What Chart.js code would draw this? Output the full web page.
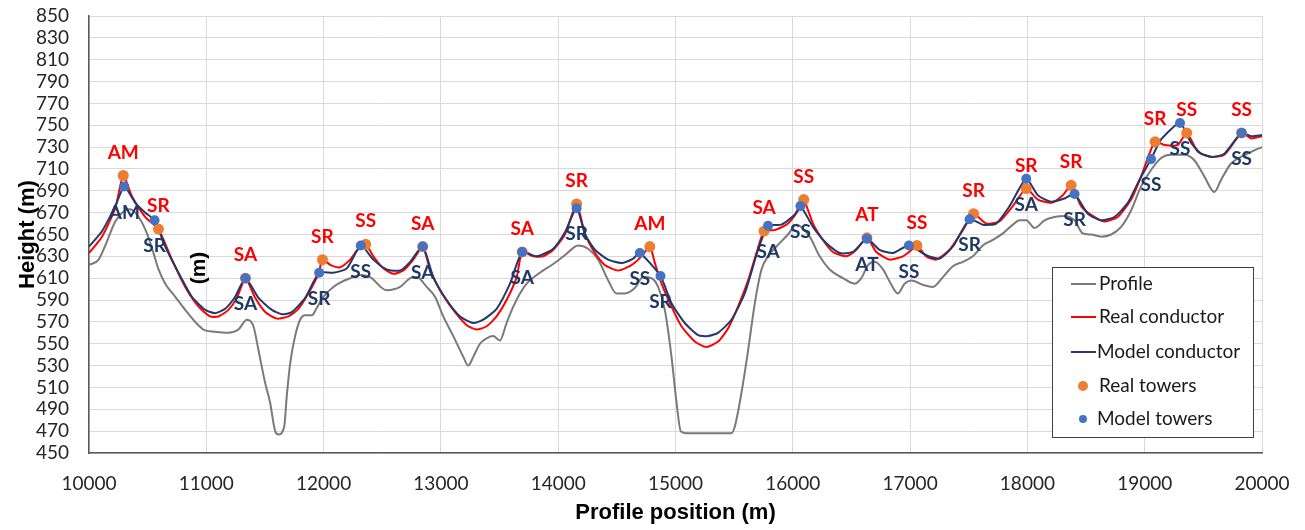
<!DOCTYPE html>
<html><head><meta charset="utf-8">
<script src="https://cdn.jsdelivr.net/npm/chart.js@4.4.1/dist/chart.umd.min.js"></script>
<style>html,body{margin:0;padding:0;background:#fff;} #wrap{width:1305px;height:530px;position:relative;}</style>
</head><body><div id="wrap"><canvas id="c" width="1305" height="530"></canvas></div>
<script>
// ---- data ----
const profileX = [10000,10082,10139,10224,10295,10350,10423,10494,10550,10593,10650,10735,10820,10905,10976,11076,11189,11274,11346,11402,11445,11502,11544,11587,11615,11664,11686,11715,11757,11800,11843,11900,11942,11998,12083,12141,12226,12311,12396,12538,12652,12738,12794,12879,12950,13020,13106,13191,13233,13276,13333,13390,13446,13503,13560,13617,13674,13731,13844,13958,14057,14170,14255,14341,14426,14497,14568,14653,14724,14796,14852,14909,14966,15009,15045,15107,15477,15505,15562,15619,15676,15733,15789,15860,15959,16031,16144,16229,16314,16428,16528,16584,16641,16698,16769,16825,16896,16953,17010,17109,17194,17280,17365,17450,17535,17620,17706,17791,17876,17933,17990,18061,18146,18231,18317,18402,18472,18543,18629,18714,18799,18884,18969,19054,19140,19225,19338,19423,19509,19594,19651,19736,19821,19934,20000];
const profileY = [622,627,640,662,671,673,666,651,633,618,605,593,581,570,563,561,560,563,572,566,544,514,496,470,467,474,502,532,557,572,576,576,583,593,602,606,610,613,611,599,602,610,611,602,593,575,557,538,530,538,550,555,557,553,569,584,596,605,615,623,631,640,637,627,608,596,596,601,611,610,602,581,538,496,470,468,468,474,505,544,587,618,630,639,650,659,648,630,618,610,605,610,622,625,618,607,596,605,608,604,602,611,621,625,630,640,645,651,659,663,663,656,663,666,667,663,651,650,648,650,657,672,694,709,720,723,723,718,703,689,700,715,721,727,730];

const realCondX = [10000,10111,10224,10292,10366,10480,10592,10707,10820,10934,11033,11104,11189,11261,11334,11417,11502,11601,11700,11785,11870,11956,11990,12060,12141,12226,12297,12359,12424,12509,12595,12680,12765,12845,12907,12992,13106,13220,13305,13390,13475,13560,13646,13693,13787,13872,13958,14057,14157,14227,14313,14398,14511,14625,14710,14781,14824,14881,14966,15051,15164,15264,15363,15448,15533,15619,15690,15755,15846,15959,16059,16093,16172,16257,16342,16457,16542,16632,16712,16825,16939,17024,17058,17138,17223,17337,17450,17541,17649,17762,17876,17990,18089,18203,18302,18373,18458,18543,18657,18770,18884,18969,19040,19089,19168,19282,19358,19452,19566,19679,19826,19906,20000];
const realCondY = [633,648,674,704,685,666,655,627,602,584,575,575,581,592,610,592,579,573,575,582,596,614,627,622,620,627,637,641,630,619,614,617,627,639,618,599,581,567,563,566,575,590,611,634,630,630,636,650,678,651,633,622,617,622,630,639,624,605,584,566,552,547,552,564,584,608,633,653,654,660,674,682,660,645,634,630,636,647,634,627,630,637,640,630,627,636,654,669,660,662,676,692,682,679,686,695,676,668,662,666,682,703,724,735,732,732,743,726,721,723,743,738,740];

const modelCondX = [10000,10111,10224,10301,10394,10480,10559,10650,10763,10877,10991,11076,11161,11246,11334,11445,11559,11644,11729,11843,11962,12084,12198,12317,12424,12538,12652,12738,12845,12935,13049,13163,13276,13361,13475,13589,13693,13816,13958,14057,14157,14230,14313,14426,14540,14639,14696,14872,14966,15079,15193,15278,15363,15477,15590,15704,15789,15903,16016,16065,16172,16286,16400,16513,16632,16740,16854,16990,17138,17251,17365,17507,17620,17734,17848,17990,18089,18203,18317,18402,18515,18629,18742,18856,18955,19054,19140,19301,19395,19480,19580,19679,19826,19906,20000];
const modelCondY = [639,653,676,694,679,670,663,639,615,593,581,578,582,593,610,592,581,577,579,592,615,615,619,640,627,618,617,625,639,611,590,575,569,572,582,605,634,630,637,652,674,650,636,627,624,628,633,612,587,569,558,557,560,572,596,636,658,659,668,676,657,642,633,634,646,636,633,640,631,628,639,664,659,660,676,701,686,680,683,687,669,663,666,679,700,719,737,752,734,724,721,724,743,740,741];

const realTowerX = [10292,10592,11334,11990,12359,12845,13693,14157,14781,15755,16093,16632,17058,17541,17990,18373,19089,19358,19826];
const realTowerY = [704,655,610,627,641,639,634,678,639,653,682,647,640,669,692,695,735,743,743];
const realTowerTypes = ['AM','SR','SA','SR','SS','SA','SA','SR','AM','SA','SS','AT','SS','SR','SR','SR','SR','SS','SS'];

const modelTowerX = [10301,10559,11334,11962,12317,12845,13693,14157,14696,14872,15789,16065,16632,16990,17507,17990,18402,19054,19301,19826];
const modelTowerY = [694,663,610,615,640,639,634,674,633,612,658,676,646,640,664,701,687,719,752,743];
const modelTowerTypes = ['AM','SR','SA','SR','SS','SA','SA','SR','SS','SR','SA','SS','AT','SS','SR','SA','SR','SS','SS','SS'];

const xTickValues = [10000,11000,12000,13000,14000,15000,16000,17000,18000,19000,20000];
const yTickValues = [450,470,490,510,530,550,570,590,610,630,650,670,690,710,730,750,770,790,810,830,850];

const seriesNames = ['Profile','Real conductor','Model conductor','Real towers','Model towers'];
const xTitle = 'Profile position (m)';
const yTitle = 'Height (m)';
const strayText = '(m)';

// ---- helpers ----
function pts(xs, ys){ return xs.map((x,i)=>({x:x, y:ys[i]})); }

const COLORS = {profile:'#7a7a7a', real:'#ff0000', model:'#24386b', realT:'#ed7d31', modelT:'#4472c4', modelLbl:'#1f3864'};

const labelsPlugin = {
  id:'towerLabels',
  afterDatasetsDraw(chart){
    const ctx = chart.ctx;
    ctx.save();
    ctx.font = 'bold 19px Lato';
    ctx.textAlign = 'center';
    ctx.textBaseline = 'middle';
    const mReal = chart.getDatasetMeta(3);
    ctx.fillStyle = COLORS.real;
    mReal.data.forEach((p,i)=>{ ctx.fillText(realTowerTypes[i], p.x, p.y - 23); });
    const mModel = chart.getDatasetMeta(4);
    ctx.fillStyle = COLORS.modelLbl;
    mModel.data.forEach((p,i)=>{ ctx.fillText(modelTowerTypes[i], p.x, p.y + 26); });
    ctx.restore();
  },
  afterDraw(chart){
    const ctx = chart.ctx;
    ctx.save();
    // stray rotated "(m)" text inside the plot
    ctx.translate(199, 268);
    ctx.rotate(-Math.PI/2);
    ctx.font = 'bold 21px "Liberation Sans"';
    ctx.fillStyle = '#000';
    ctx.textAlign = 'center';
    ctx.textBaseline = 'middle';
    ctx.fillText(strayText, 0, 0);
    ctx.restore();

    // legend box
    ctx.save();
    const bx = 1052, by = 267, bw = 201, bh = 170;
    ctx.fillStyle = '#fff';
    ctx.fillRect(bx, by, bw, bh);
    ctx.strokeStyle = '#404040';
    ctx.lineWidth = 1;
    ctx.strokeRect(bx + 0.5, by + 0.5, bw, bh);
    ctx.font = '19px Lato';
    ctx.textBaseline = 'middle';
    ctx.textAlign = 'left';
    const rows = [284, 317, 352, 386, 419];
    chart.data.datasets.forEach((ds, i)=>{
      const y = rows[i];
      if (i < 3) {
        ctx.strokeStyle = ds.borderColor;
        ctx.lineWidth = 2;
        ctx.beginPath(); ctx.moveTo(1071, y); ctx.lineTo(1096, y); ctx.stroke();
        ctx.fillStyle = '#1a1a1a';
        ctx.fillText(ds.label, i === 2 ? 1097 : 1099, y);
      } else {
        ctx.fillStyle = ds.backgroundColor;
        ctx.beginPath(); ctx.arc(1083, y, i === 3 ? 5 : 4, 0, Math.PI*2); ctx.fill();
        ctx.fillStyle = '#1a1a1a';
        ctx.fillText(ds.label, i === 3 ? 1099 : 1097, y);
      }
    });
    ctx.restore();
  }
};

new Chart(document.getElementById('c'), {
  type: 'line',
  data: {
    datasets: [
      {label: seriesNames[0], data: pts(profileX, profileY), borderColor: COLORS.profile, borderWidth: 2, pointRadius: 0, cubicInterpolationMode: 'monotone', order: 4},
      {label: seriesNames[1], data: pts(realCondX, realCondY), borderColor: COLORS.real, borderWidth: 2, pointRadius: 0, tension: 0.2, order: 3},
      {label: seriesNames[2], data: pts(modelCondX, modelCondY), borderColor: COLORS.model, borderWidth: 2, pointRadius: 0, tension: 0.2, order: 2},
      {label: seriesNames[3], data: pts(realTowerX, realTowerY), showLine: false, backgroundColor: COLORS.realT, borderColor: COLORS.realT, pointRadius: 5.5, pointBorderWidth: 0, order: 1},
      {label: seriesNames[4], data: pts(modelTowerX, modelTowerY), showLine: false, backgroundColor: COLORS.modelT, borderColor: COLORS.modelT, pointRadius: 5, pointBorderWidth: 0, order: 0}
    ]
  },
  options: {
    responsive: false,
    animation: false,
    layout: {padding: {left: 0, right: 43, top: 16, bottom: 0}},
    plugins: {legend: {display: false}, tooltip: {enabled: false}},
    scales: {
      x: {
        type: 'linear', min: 10000, max: 20000,
        afterBuildTicks: (s) => { s.ticks = xTickValues.map(v => ({value: v})); },
        afterFit: (s) => { s.height = 77; s.paddingLeft = 0; s.paddingRight = 0; },
        ticks: {callback: (v) => String(v), font: {family: 'Lato', size: 19}, color: '#262626', padding: 19, maxRotation: 0, autoSkip: false},
        grid: {color: '#d9d9d9', lineWidth: 1, drawTicks: false},
        border: {color: '#595959', width: 1.5},
        title: {display: true, text: xTitle, font: {family: 'Liberation Sans', size: 22, weight: 'bold'}, color: '#000', padding: {top: 0, bottom: 4}}
      },
      y: {
        type: 'linear', min: 450, max: 850,
        afterBuildTicks: (s) => { s.ticks = yTickValues.map(v => ({value: v})); },
        afterFit: (s) => { s.width = 89; s.paddingTop = 0; s.paddingBottom = 0; },
        ticks: {callback: (v) => String(v), font: {family: 'Lato', size: 19}, color: '#262626', padding: 20, autoSkip: false},
        grid: {color: '#d9d9d9', lineWidth: 1, drawTicks: false},
        border: {color: '#595959', width: 1.5},
        title: {display: true, text: yTitle, font: {family: 'Liberation Sans', size: 22, weight: 'bold'}, color: '#000', padding: {top: 15, bottom: 0}}
      }
    }
  },
  plugins: [labelsPlugin]
});
</script>
</body></html>
